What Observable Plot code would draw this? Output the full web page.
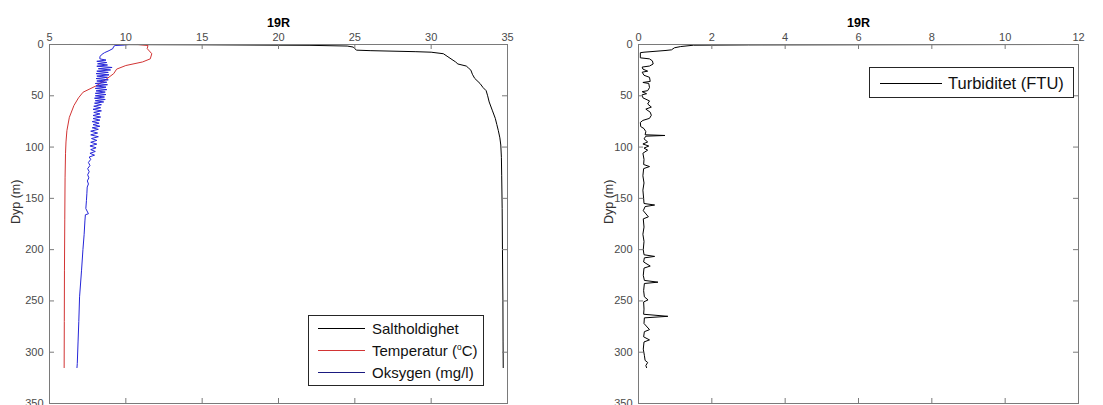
<!DOCTYPE html>
<html><head><meta charset="utf-8">
<script src="https://cdn.jsdelivr.net/npm/d3@7"></script>
<script src="https://cdn.jsdelivr.net/npm/@observablehq/plot@0.6"></script>
<style>
body{margin:0;background:#fff;}
#wrap{position:relative;width:1103px;height:405px;overflow:hidden;font-family:"Liberation Sans",Arial,sans-serif;background:#fff;}
.panel{position:absolute;top:0;}
.leg{position:absolute;border:1px solid #262626;background:#fff;box-sizing:border-box;}
.lline{position:absolute;height:0;border-top:1px solid;}
.ltext{position:absolute;color:#111;white-space:nowrap;line-height:1;transform:translateY(-50%);}
</style></head><body><div id="wrap"></div>
<script>
// ---- Data ----
const title = ["19R"];
const yLabel = ["Dyp (m)"];
const depthTicks = [0, 50, 100, 150, 200, 250, 300, 350];
const leftXTicks = [5, 10, 15, 20, 25, 30, 35];
const rightXTicks = [0, 2, 4, 6, 8, 10, 12];

const salDepth = [0, 0.3, 0.8, 1.5, 2.5, 5.5, 6, 7, 7.5, 9, 12, 14, 17, 19, 21, 23, 25, 29, 33, 38, 42, 45, 50, 56, 64, 72, 78, 84, 91, 98, 110, 128, 160, 200, 250, 290, 315];
const salValue = [6.3, 15, 22, 24.5, 24.9, 25.1, 26, 29, 30.0, 30.8, 31.1, 31.3, 31.6, 31.75, 32.3, 32.45, 32.6, 32.7, 32.85, 33.2, 33.4, 33.6, 33.7, 33.8, 34.0, 34.2, 34.3, 34.4, 34.5, 34.56, 34.6, 34.62, 34.65, 34.67, 34.7, 34.71, 34.72];

const tempDepth = [0, 1, 4, 9, 14, 17, 20.5, 24, 28.5, 34, 40, 46.5, 52, 59.5, 71, 84, 95, 106, 130, 171, 220, 270, 315];
const tempValue = [10.8, 11.45, 11.4, 11.7, 11.6, 11.1, 10.0, 9.4, 9.2, 8.7, 8.1, 7.2, 6.9, 6.6, 6.3, 6.14, 6.08, 6.05, 6.02, 6.0, 5.98, 5.97, 5.96];

const oxyDepth = [0, 0.5, 1, 2, 4, 6, 8, 10, 12, 14,
  15.2, 16.4, 17.6, 18.8, 20, 21.2, 22.4, 23.6, 24.8, 26, 27.2, 28.4, 29.6, 30.8, 32, 33.2, 34.4, 35.6, 36.8, 38, 39.2, 40.4, 41.6, 42.8, 44, 45.2, 46.4, 47.6, 48.8, 50, 51.2, 52.4, 53.6, 54.8, 56, 57.2,
  58.7, 60.2, 61.7, 63.2, 64.7, 66.2, 67.7, 69.2, 70.7, 72.2, 73.7, 75.2, 76.7, 78.2, 79.7, 81.2, 82.7,
  84.5, 86.3, 88.1, 89.9, 91.7, 93.5, 95.3, 97.1, 98.9, 100.7, 102.5, 104.3, 106.1, 107.9, 109.7,
  112, 115, 118, 121, 124, 127, 130, 133, 136, 139,
  145, 152, 160, 165, 166, 172, 185, 200, 220, 246, 270, 290, 311, 315];
const oxyValue = [10.2, 9.9, 9.3, 9.2, 9.15, 8.9, 8.6, 8.4, 8.3, 8.3,
  8.7, 8.1, 8.75, 8.15, 8.8, 8.1, 9.1, 8.2, 9.0, 8.1, 8.85, 8.05, 8.9, 8.1, 8.8, 8.05, 8.85, 8.1, 8.75, 8.0, 8.8, 8.05, 8.7, 8.0, 8.75, 8.05, 8.65, 8.0, 8.7, 8.0, 8.6, 7.95, 8.65, 8.0, 8.55, 7.95,
  8.4, 7.9, 8.35, 7.85, 8.4, 7.9, 8.3, 7.85, 8.35, 7.85, 8.3, 7.8, 8.25, 7.85, 8.3, 7.8, 8.2,
  7.7, 8.15, 7.7, 8.2, 7.75, 8.1, 7.7, 8.1, 7.65, 8.05, 7.7, 8.0, 7.65, 7.95, 7.6,
  7.7, 7.55, 7.65, 7.5, 7.6, 7.5, 7.58, 7.48, 7.55, 7.47,
  7.45, 7.42, 7.38, 7.55, 7.35, 7.32, 7.27, 7.19, 7.1, 6.97, 6.92, 6.87, 6.82, 6.8];

const turbDepth = [0, 0.4, 0.7, 2, 3.2, 5.2, 5.8, 7.5, 8, 13, 14, 16, 19, 21, 22, 24, 26, 27, 30, 32, 36, 37, 38, 42, 45, 46, 48, 49, 52, 55, 58, 61, 63, 66, 69, 72, 74, 76, 80, 82, 85, 88, 88.7, 89.4, 92, 95, 97, 99, 101, 103, 106, 112, 117, 119, 121, 128, 135, 142, 150, 155, 156.5, 158, 162, 168, 170, 178, 185, 192, 200, 205, 206.6, 208, 212, 216, 218, 225, 230, 231.7, 233, 240, 246, 249, 251, 258, 263, 265, 266.5, 272, 278, 280, 285, 288, 290, 297, 303, 308, 310, 313, 315];
const turbValue = [11.6, 3.0, 1.5, 1.15, 0.98, 0.9, 0.75, 0.15, 0.05, 0.05, 0.3, 0.38, 0.4, 0.3, 0.1, 0.12, 0.25, 0.1, 0.15, 0.3, 0.32, 0.12, 0.28, 0.3, 0.25, 0.1, 0.22, 0.1, 0.12, 0.3, 0.25, 0.35, 0.2, 0.32, 0.35, 0.3, 0.12, 0.05, 0.06, 0.15, 0.2, 0.18, 0.72, 0.2, 0.15, 0.25, 0.12, 0.28, 0.15, 0.25, 0.12, 0.15, 0.14, 0.3, 0.14, 0.12, 0.15, 0.12, 0.14, 0.15, 0.44, 0.18, 0.13, 0.27, 0.13, 0.15, 0.12, 0.15, 0.13, 0.15, 0.44, 0.16, 0.14, 0.32, 0.15, 0.13, 0.16, 0.53, 0.16, 0.14, 0.16, 0.26, 0.14, 0.15, 0.14, 0.8, 0.16, 0.15, 0.3, 0.16, 0.14, 0.3, 0.15, 0.13, 0.16, 0.18, 0.25, 0.2, 0.22];

const leftSeries = ["Saltholdighet", "Temperatur (°C)", "Oksygen (mg/l)"];
const rightSeries = ["Turbiditet (FTU)"];
// ---- end data ----

const rows = (ds, vs) => ds.map((d, i) => ({depth: d, value: vs[i]}));
const salRows = rows(salDepth, salValue);
const tempRows = rows(tempDepth, tempValue);
const oxyRows = rows(oxyDepth, oxyValue);
const turbRows = rows(turbDepth, turbValue);

const FONT = '"Liberation Sans", Arial, sans-serif';
const AX = "#7a7a7a";
const H = 405, MT = 44, MB = 2;
const tickY = 5 * 350 / (H - MT - MB);

function panel({width, ml, mr, xDomain, xTicks, lines, labelDx}) {
  const tickX = 5 * (xDomain[1] - xDomain[0]) / (width - ml - mr);
  const [x0, x1] = xDomain;
  return Plot.plot({
    width, height: H, marginLeft: ml, marginRight: mr, marginTop: MT, marginBottom: MB,
    x: {domain: xDomain},
    y: {domain: [0, 350], reverse: true},
    style: {fontFamily: FONT, fontSize: "11px", color: "#4a4a4a", background: "transparent", overflow: "visible"},
    marks: [
      ...lines,
      Plot.frame({stroke: AX}),
      Plot.ruleX(xTicks, {x: d => d, y1: 0, y2: tickY, stroke: AX}),
      Plot.ruleX(xTicks, {x: d => d, y1: 350, y2: 350 - tickY, stroke: AX}),
      Plot.ruleY(depthTicks, {y: d => d, x1: x0, x2: x0 + tickX, stroke: AX}),
      Plot.ruleY(depthTicks, {y: d => d, x1: x1, x2: x1 - tickX, stroke: AX}),
      Plot.axisX({anchor: "top", ticks: xTicks, tickSize: 0, tickPadding: 4, label: null}),
      Plot.axisY({ticks: depthTicks, tickSize: 0, tickPadding: 6, label: null}),
      Plot.text(title, {text: d => d, frameAnchor: "top", dy: -26, fontWeight: "bold", fontSize: 12.5, fill: "#000"}),
      Plot.text(yLabel, {text: d => d, frameAnchor: "left", rotate: -90, dx: labelDx, fontSize: 12.5, fill: "#333"})
    ]
  });
}

const wrap = document.getElementById("wrap");

const left = panel({
  width: 551, ml: 49, mr: 44, xDomain: [5, 35], xTicks: leftXTicks, labelDx: -34,
  lines: [
    Plot.line(salRows, {x: "value", y: "depth", stroke: "#000", strokeWidth: 1}),
    Plot.line(tempRows, {x: "value", y: "depth", stroke: "#d23434", strokeWidth: 1}),
    Plot.line(oxyRows, {x: "value", y: "depth", stroke: "#2525d8", strokeWidth: 1})
  ]
});
left.classList.add("panel");
left.style.left = "0px";
wrap.appendChild(left);

const right = panel({
  width: 552, ml: 87, mr: 25, xDomain: [0, 12], xTicks: rightXTicks, labelDx: -30,
  lines: [
    Plot.line(turbRows, {x: "value", y: "depth", stroke: "#000", strokeWidth: 1})
  ]
});
right.classList.add("panel");
right.style.left = "551px";
wrap.appendChild(right);

// Legends
function legend(box, entries, colors, lineX, textX, ys, fontSize) {
  const b = document.createElement("div");
  b.className = "leg";
  Object.assign(b.style, {left: box[0] + "px", top: box[1] + "px", width: (box[2] - box[0]) + "px", height: (box[3] - box[1]) + "px"});
  wrap.appendChild(b);
  entries.forEach((t, i) => {
    const l = document.createElement("div");
    l.className = "lline";
    Object.assign(l.style, {left: lineX[0] + "px", top: ys[i] + "px", width: (lineX[1] - lineX[0]) + "px", borderColor: colors[i]});
    wrap.appendChild(l);
    const s = document.createElement("div");
    s.className = "ltext";
    Object.assign(s.style, {left: textX + "px", top: ys[i] + "px", fontSize: fontSize + "px"});
    if (t.includes("°C")) {
      s.innerHTML = 'Temperatur (<sup style="font-size:0.55em;vertical-align:0.7em">o</sup>C)';
    } else s.textContent = t;
    wrap.appendChild(s);
  });
}
legend([308, 315, 484, 386], leftSeries, ["#000", "#d23434", "#1a1a80"], [318, 365], 372, [328, 350, 372], 15);
legend([869, 67, 1074, 98], rightSeries, ["#000"], [880, 942], 948, [83], 16.5);
</script></body></html>
